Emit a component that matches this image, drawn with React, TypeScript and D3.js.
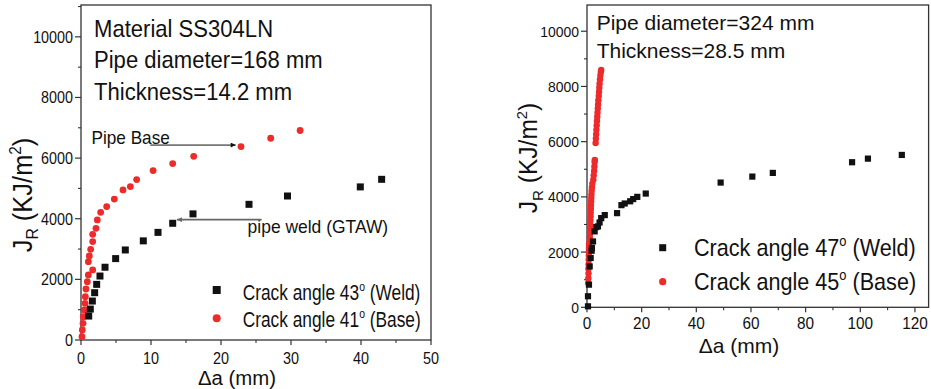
import * as d3 from 'd3';

const FONT = '"Liberation Sans", Arial, Helvetica, sans-serif';

type Pt = [number, number];

// Δa (mm), J_R (kJ/m²) — 168 mm pipe, SS304LN
const weld43: Pt[] = [
  [1.1, 790], [1.33, 1020], [1.62, 1285], [1.95, 1560], [2.24, 1835], [2.71, 2110],
  [3.43, 2400], [4.95, 2685], [6.33, 2970], [8.9, 3270], [11.0, 3550], [13.1, 3850],
  [16.0, 4160], [24.0, 4475], [29.5, 4750], [39.9, 5050], [42.95, 5300],
];
const base41: Pt[] = [
  [0.14, 110], [0.19, 330], [0.29, 550], [0.33, 770], [0.47, 990], [0.57, 1210],
  [0.62, 1430], [0.71, 1683], [0.9, 1925], [1.05, 2145], [1.67, 2310], [1.05, 2585],
  [1.19, 2770], [1.38, 2990], [1.67, 3245], [1.67, 3485], [2.14, 3685], [2.33, 3960],
  [2.81, 4210], [3.67, 4400], [4.76, 4650], [6.0, 4950], [7.05, 5060], [7.95, 5290],
  [10.3, 5590], [13.1, 5820], [16.1, 6060], [22.86, 6380], [27.1, 6655], [31.3, 6910],
];

// 324 mm pipe
const weld47: Pt[] = [
  [0.36, 36], [0.36, 400], [0.72, 820], [0.98, 1480], [1.34, 1785], [1.7, 2049],
  [1.8, 2150], [2.2, 2385], [2.8, 2750], [3.4, 2905], [4.0, 2930], [4.6, 3072],
  [5.2, 3230], [6.5, 3340], [11.0, 3411], [12.6, 3700], [13.8, 3760], [15.8, 3840],
  [16.9, 3920], [18.4, 4000], [21.5, 4120], [48.9, 4518], [60.5, 4735], [68.0, 4868],
  [97.0, 5255], [102.8, 5385], [115.2, 5519],
];
const base45: Pt[] = [
  [0.45, 880], [0.5, 1050], [0.55, 1230], [0.52, 1400], [0.6, 1560], [0.62, 1720],
  [0.66, 1880], [0.7, 2020], [0.72, 2160], [0.76, 2290], [1.0, 2420], [1.05, 2560],
  [1.12, 2700], [1.15, 2850], [1.22, 3000], [1.25, 3150], [1.32, 3300], [1.35, 3430],
  [1.42, 3560], [1.45, 3700], [1.52, 3830], [1.55, 3960], [1.62, 4090], [1.7, 4220],
  [1.82, 4350], [1.95, 4480], [2.3, 4620], [2.45, 4780], [2.6, 4940], [2.7, 5100],
  [2.8, 5260], [2.85, 5340], [3.15, 5950], [3.25, 6110], [3.35, 6270], [3.45, 6430],
  [3.55, 6590], [3.65, 6750], [3.75, 6900], [3.85, 7050], [3.95, 7200], [4.05, 7350],
  [4.15, 7500], [4.3, 7650], [4.4, 7800], [4.5, 7950], [4.6, 8100], [4.75, 8250],
  [4.9, 8400], [5.05, 8520], [5.2, 8600],
];

const leftXTicks = [0, 10, 20, 30, 40, 50];
const rightXTicks = [0, 20, 40, 60, 80, 100, 120];
const yTicks = [0, 2000, 4000, 6000, 8000, 10000];

const RED = '#ee2a2a';
const INK = '#111';

function T({ x, y, size, sx = 1, anchor = 'start', rot = false, children }: any) {
  const tr = `translate(${x},${y})${rot ? ' rotate(-90)' : ''} scale(${sx},1)`;
  return (
    <text transform={tr} fontSize={size} textAnchor={anchor} fontFamily={FONT} fill={INK}>
      {children}
    </text>
  );
}

function Sup({ size, text, after }: { size: number; text: string; after: string }) {
  const d = size * 0.4;
  return (
    <>
      <tspan dy={-d} fontSize={size * 0.6}>{text}</tspan>
      <tspan dy={d}>{after}</tspan>
    </>
  );
}

function YTitle({ x, y, size, sx }: any) {
  const sub = size * 0.22;
  const sup = size * 0.4;
  return (
    <T x={x} y={y} size={size} sx={sx} anchor="middle" rot>
      J
      <tspan dy={sub} fontSize={size * 0.62}>R</tspan>
      <tspan dy={-sub}> (KJ/m</tspan>
      <tspan dy={-sup} fontSize={size * 0.6}>2</tspan>
      <tspan dy={sup}>)</tspan>
    </T>
  );
}

function Panel({ box, xMax, yMax, xTicks, xMinorStep, weld, base, m, lab }: any) {
  const x = d3.scaleLinear().domain([0, xMax]).range([box.left, box.right]);
  const y = d3.scaleLinear().domain([0, yMax]).range([box.bottom, box.top]);
  const xMinor = d3.range(xMinorStep, xMax, xMinorStep * 2);
  const yMinor = d3.range(1000, yMax, 2000);
  return (
    <g>
      <rect x={box.left} y={box.top} width={box.right - box.left} height={box.bottom - box.top}
        fill="none" stroke="#333" strokeWidth={1.3} />
      {xTicks.map((t: number) => (
        <g key={'x' + t}>
          <line x1={x(t)} x2={x(t)} y1={box.bottom} y2={box.bottom + 5} stroke="#333" strokeWidth={1.2} />
          <T x={x(t)} y={box.bottom + lab.xDy} size={lab.xSize} sx={lab.xSx} anchor="middle">{t}</T>
        </g>
      ))}
      {xMinor.map((t: number) => (
        <line key={'xm' + t} x1={x(t)} x2={x(t)} y1={box.bottom} y2={box.bottom + 3} stroke="#333" strokeWidth={1.1} />
      ))}
      {yTicks.map((t) => (
        <g key={'y' + t}>
          <line x1={box.left - 6} x2={box.left} y1={y(t)} y2={y(t)} stroke="#333" strokeWidth={1.2} />
          <T x={box.left - 8} y={y(t) + lab.ySize * 0.36} size={lab.ySize} sx={lab.ySx} anchor="end">{t}</T>
        </g>
      ))}
      {yMinor.map((t: number) => (
        <line key={'ym' + t} x1={box.left - 3} x2={box.left} y1={y(t)} y2={y(t)} stroke="#333" strokeWidth={1.1} />
      ))}
      {base.map((d: Pt, i: number) => (
        <circle key={'b' + i} cx={x(d[0])} cy={y(d[1])} r={m.r} fill={RED} />
      ))}
      {weld.map((d: Pt, i: number) => (
        <rect key={'w' + i} x={x(d[0]) - m.s / 2} y={y(d[1]) - m.s / 2} width={m.s} height={m.s} fill={INK} />
      ))}
    </g>
  );
}

export default function App() {
  const L = { left: 81, right: 431, top: 5, bottom: 340 };
  const R = { left: 587, right: 928.6, top: 5, bottom: 307.3 };
  const lx = d3.scaleLinear().domain([0, 50]).range([L.left, L.right]);
  const ly = d3.scaleLinear().domain([0, 11050]).range([L.bottom, L.top]);

  return (
    <svg width={931} height={389} style={{ position: 'absolute', left: 0, top: 0, background: '#fff' }}>
      <defs>
        <marker id="ahB" viewBox="0 0 10 10" refX="10" refY="5" markerWidth="7" markerHeight="5" orient="auto" markerUnits="userSpaceOnUse">
          <path d="M0,0 L10,5 L0,10 Z" fill="#111" />
        </marker>
        <marker id="ahG" viewBox="0 0 10 10" refX="10" refY="5" markerWidth="7" markerHeight="5" orient="auto" markerUnits="userSpaceOnUse">
          <path d="M0,0 L10,5 L0,10 Z" fill="#666" />
        </marker>
      </defs>

      <Panel box={L} xMax={50} yMax={11050} xTicks={leftXTicks} xMinorStep={5}
        weld={weld43} base={base41} m={{ r: 3.4, s: 7 }}
        lab={{ xDy: 23.5, xSize: 16, xSx: 0.9, ySize: 16.3, ySx: 0.88 }} />
      <Panel box={R} xMax={125} yMax={10950} xTicks={rightXTicks} xMinorStep={10}
        weld={weld47} base={base45} m={{ r: 3.2, s: 6.2 }}
        lab={{ xDy: 21.5, xSize: 16.5, xSx: 0.93, ySize: 15.5, ySx: 0.9 }} />

      {/* left annotations */}
      <T x={94} y={36.7} size={24} sx={0.92}>Material SS304LN</T>
      <T x={94} y={68.3} size={24} sx={0.92}>Pipe diameter=168 mm</T>
      <T x={94} y={100} size={24} sx={0.92}>Thickness=14.2 mm</T>

      <T x={lx(1.5)} y={ly(6465)} size={18} sx={0.955}>Pipe Base</T>
      <line x1={lx(9.9)} x2={lx(22.1)} y1={ly(6430)} y2={ly(6430)} stroke="#111" strokeWidth={1} markerEnd="url(#ahB)" />
      <T x={lx(23.8)} y={ly(3520)} size={18} sx={0.97}>pipe weld (GTAW)</T>
      <line x1={lx(25.8)} x2={lx(13.7)} y1={ly(3970)} y2={ly(3970)} stroke="#666" strokeWidth={1.6} markerEnd="url(#ahG)" />

      {/* left legend */}
      <rect x={216.7 - 4} y={290 - 4} width={8} height={8} fill={INK} />
      <T x={242.7} y={300} size={22.5} sx={0.77}>
        Crack angle 43<Sup size={22.5} text="o" after=" (Weld)" />
      </T>
      <circle cx={216.7} cy={318.3} r={4} fill={RED} />
      <T x={242.7} y={326.7} size={22.5} sx={0.77}>
        Crack angle 41<Sup size={22.5} text="o" after=" (Base)" />
      </T>

      <T x={237} y={385} size={20} sx={1.02} anchor="middle">Δa (mm)</T>
      <YTitle x={32} y={195} size={28} sx={0.91} />

      {/* right annotations */}
      <T x={596.7} y={30} size={21} sx={1}>Pipe diameter=324 mm</T>
      <T x={596.7} y={58.3} size={21} sx={1}>Thickness=28.5 mm</T>

      <rect x={662.7 - 3.5} y={247.7 - 3.5} width={7} height={7} fill={INK} />
      <T x={694} y={255.7} size={24} sx={0.9}>
        Crack angle 47<Sup size={24} text="o" after=" (Weld)" />
      </T>
      <circle cx={662.7} cy={281.7} r={3.6} fill={RED} />
      <T x={694} y={290} size={24} sx={0.9}>
        Crack angle 45<Sup size={24} text="o" after=" (Base)" />
      </T>

      <T x={739} y={352.5} size={21} sx={1.0} anchor="middle">Δa (mm)</T>
      <YTitle x={537} y={158} size={25} sx={0.98} />
    </svg>
  );
}
